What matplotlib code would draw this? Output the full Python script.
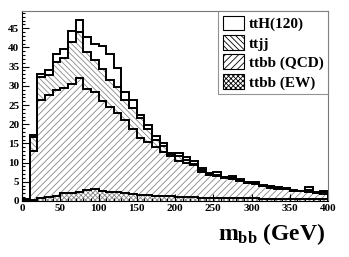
import numpy as np
import matplotlib as mpl
import matplotlib.pyplot as plt
from matplotlib.patches import Patch
from matplotlib.ticker import MultipleLocator

mpl.rcParams['font.family'] = 'Liberation Serif'
mpl.rcParams['font.weight'] = 'bold'
mpl.rcParams['mathtext.fontset'] = 'custom'
mpl.rcParams['mathtext.rm'] = 'Liberation Serif:bold'
mpl.rcParams['mathtext.bf'] = 'Liberation Serif:bold'
mpl.rcParams['mathtext.it'] = 'Liberation Serif:bold'
mpl.rcParams['hatch.linewidth'] = 0.6

# m_bb bins, 10 GeV wide
edges = np.arange(0, 410, 10)

# stacked heights (each includes everything below it)
h_ew = [0.1, 0.3, 0.7, 1.1, 1.4, 2.0, 2.0, 2.4, 2.9, 3.0,
        2.7, 2.4, 2.3, 2.2, 1.8, 1.6, 1.5, 1.4, 1.2, 1.2,
        1.1, 1.0, 1.0, 0.9, 0.9, 0.8, 0.8, 0.8, 0.7, 0.7,
        0.7, 0.6, 0.6, 0.6, 0.6, 0.5, 0.5, 0.5, 0.5, 0.5]
h_qcd = [0.4, 13.0, 26.3, 27.6, 28.9, 29.5, 30.5, 32.0, 29.2, 28.5,
         26.0, 24.4, 22.8, 21.0, 18.8, 16.5, 15.3, 14.0, 12.8, 11.6,
         10.5, 9.8, 9.3, 7.6, 6.8, 6.6, 6.1, 5.7, 5.3, 4.7,
         4.3, 3.8, 3.5, 3.2, 3.0, 2.6, 2.5, 2.3, 2.0, 1.9]
h_ttjj = [0.45, 16.8, 32.2, 32.8, 36.3, 37.3, 41.3, 44.1, 38.9, 36.7,
          34.5, 31.5, 29.8, 26.3, 24.1, 21.5, 18.8, 16.0, 14.3, 12.2,
          11.8, 10.6, 9.6, 8.0, 7.0, 6.8, 6.2, 6.0, 5.4, 4.8,
          4.6, 3.9, 3.6, 3.3, 3.2, 2.7, 2.5, 2.9, 2.1, 2.3]
h_tth = [0.5, 17.2, 33.0, 34.0, 38.2, 39.6, 44.4, 47.1, 42.8, 40.9,
         40.4, 38.2, 34.7, 28.5, 26.3, 22.4, 19.8, 16.9, 15.2, 12.6,
         12.6, 11.4, 10.5, 8.5, 7.2, 7.6, 6.3, 6.4, 5.7, 5.0,
         5.0, 4.2, 3.9, 3.6, 3.5, 2.9, 2.7, 3.6, 2.3, 2.6]

labels = ['ttH(120)', 'ttjj', 'ttbb (QCD)', 'ttbb (EW)']
hatches = ['', '\\\\\\\\\\\\', '/////', 'xxxxxxx']
hcol = '#888888'

fig = plt.figure(figsize=(3.49, 2.57), dpi=100)
ax = fig.add_axes([22/349, 56/257, 306/349, 190/257])

layers = [h_tth, h_ttjj, h_qcd, h_ew]
lows = [h_ttjj, h_qcd, h_ew, np.zeros(40)]
for top, low, hat in zip(layers, lows, hatches):
    ax.stairs(top, edges, baseline=low, fill=True, facecolor='white',
              edgecolor=hcol, hatch=hat, lw=0)
for top in layers:
    ax.stairs(top, edges, baseline=0, fill=False, color='k', lw=1.4)

ax.set_xlim(0, 400)
ax.set_ylim(0, 49.5)
ax.xaxis.set_major_locator(MultipleLocator(50))
ax.xaxis.set_minor_locator(MultipleLocator(10))
ax.yaxis.set_major_locator(MultipleLocator(5))
ax.yaxis.set_minor_locator(MultipleLocator(1))
ax.tick_params(which='both', direction='in', labelsize=8, width=0.8)
ax.tick_params(which='major', length=5)
ax.tick_params(which='minor', length=2.5)
ax.tick_params(axis='x', pad=2)
ax.tick_params(axis='y', pad=2)
for s in ['top', 'right']:
    ax.spines[s].set_color('#777777')
    ax.spines[s].set_linewidth(0.8)

fig.text(325/349, 1 - 240/257, r'm$_{\rm bb}$ (GeV)', ha='right',
         va='baseline', fontsize=17, fontweight='bold')

handles = [Patch(facecolor='white', edgecolor='k', hatch=h, lw=0.8) for h in hatches]
leg = ax.legend(handles, labels, loc='upper right', bbox_to_anchor=(1.0, 1.0),
                fontsize=11, frameon=True, fancybox=False, borderaxespad=0,
                handlelength=1.4, handleheight=1.1, handletextpad=0.3,
                labelspacing=0.25, borderpad=0.3)
leg.get_frame().set_edgecolor('#777777')
leg.get_frame().set_linewidth(0.8)

fig.savefig('out.png', dpi=100)
